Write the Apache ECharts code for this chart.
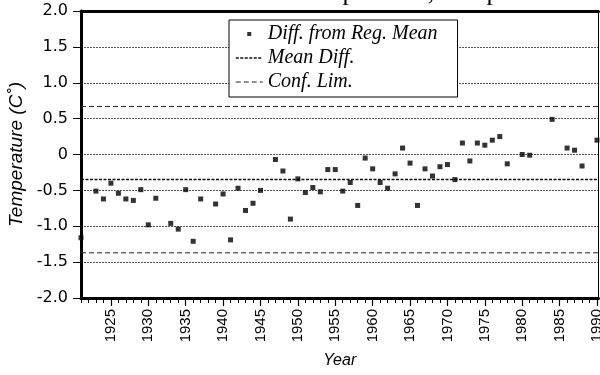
<!DOCTYPE html>
<html>
<head>
<meta charset="utf-8">
<script src="https://cdn.jsdelivr.net/npm/echarts@6/dist/echarts.min.js"></script>
<style>
  html, body { margin: 0; padding: 0; background: #fff; }
  #chart { width: 600px; height: 375px; }
</style>
</head>
<body>
<div id="chart"></div>
<script>
// years with a value
var years = [1921,1923,1924,1925,1926,1927,1928,1929,1930,1931,1933,1934,1935,1936,1937,1939,1940,1941,1942,1943,1944,1945,
  1947,1948,1949,1950,1951,1952,1953,1954,1955,1956,1957,1958,1959,1960,1961,1962,1963,1964,1965,1966,1967,1968,1969,
  1970,1971,1972,1973,1974,1975,1976,1977,1978,1980,1981,1984,1986,1987,1988,1990];
var diffs = [-1.16,-0.51,-0.62,-0.40,-0.54,-0.62,-0.64,-0.49,-0.98,-0.61,-0.96,-1.04,-0.49,-1.21,-0.62,-0.69,-0.55,-1.19,-0.47,-0.78,-0.68,-0.50,
  -0.07,-0.23,-0.90,-0.34,-0.53,-0.46,-0.52,-0.21,-0.21,-0.51,-0.39,-0.71,-0.05,-0.20,-0.39,-0.47,-0.27,0.09,-0.12,-0.71,-0.20,-0.30,-0.17,
  -0.14,-0.35,0.16,-0.09,0.16,0.13,0.20,0.25,-0.13,0.00,-0.01,0.49,0.09,0.06,-0.16,0.20];
var meanDiff = -0.35;
var confUpper = 0.67;
var confLower = -1.37;
var xMin = 1921, xMax = 1990.2;
var labelYears = [1925,1930,1935,1940,1945,1950,1955,1960,1965,1970,1975,1980,1985,1990];
var tickYears = [];
for (var y = 1921; y <= 1990; y++) tickYears.push(y);

var points = years.map(function (yr, i) { return [yr, diffs[i]]; });

var chart = echarts.init(document.getElementById('chart'));
chart.setOption({
  backgroundColor: '#fff',
  animation: false,
  textStyle: { fontFamily: 'Liberation Sans', color: '#000' },
  graphic: [{
    type: 'text', x: 231, y: 6, z: 0,
    style: { text: 'Mean Temperature, Temperature Difference', font: '26px "Liberation Serif"', fill: '#000', verticalAlign: 'bottom' }
  }],
  grid: { left: 81, right: 1.5, top: 11, bottom: 77, outerBoundsMode: 'none' },
  legend: {
    left: 229, top: 20, orient: 'vertical',
    backgroundColor: '#fff', borderColor: '#000', borderWidth: 1,
    padding: [4, 20, 5, 6], itemGap: 4, itemWidth: 27, itemHeight: 14,
    textStyle: { fontFamily: 'Liberation Serif', fontStyle: 'italic', fontSize: 20, color: '#000' },
    data: [
      { name: 'Diff. from Reg. Mean', icon: 'path://M0,0M27,14M11.5,5h4v4h-4z' },
      { name: 'Mean Diff.', itemStyle: { opacity: 0 }, lineStyle: { color: '#111', width: 1.5, type: [3, 1.5] } },
      { name: 'Conf. Lim.', itemStyle: { opacity: 0 }, lineStyle: { color: '#222', width: 1, type: [5, 3] } }
    ]
  },
  xAxis: [{
    type: 'value', min: xMin, max: xMax, position: 'bottom',
    name: 'Year', nameLocation: 'middle', nameGap: 55,
    nameTextStyle: { fontStyle: 'italic', fontSize: 16, color: '#000' },
    axisLine: { onZero: false, lineStyle: { color: '#000', width: 3 } },
    axisTick: { show: true, customValues: tickYears, length: 5, lineStyle: { color: '#000', width: 1 } },
    axisLabel: { customValues: labelYears, rotate: 90, margin: 11, fontSize: 15, color: '#000',
      formatter: function (v) { return String(v); } },
    splitLine: { show: false }
  }, {
    type: 'value', min: xMin, max: xMax, position: 'bottom',
    axisLine: { show: false, onZero: false },
    axisTick: { show: true, customValues: labelYears, length: 8, lineStyle: { color: '#000', width: 1.2 } },
    axisLabel: { show: false },
    splitLine: { show: false }
  }, {
    type: 'value', min: xMin, max: xMax, position: 'top',
    axisLine: { onZero: false, lineStyle: { color: '#000', width: 3 } },
    axisTick: { show: false }, axisLabel: { show: false }, splitLine: { show: false }
  }],
  yAxis: [{
    type: 'value', min: -2, max: 2, interval: 0.5, position: 'left',
    name: 'Temperature (C˚)', nameLocation: 'middle', nameGap: 53,
    nameTextStyle: { fontStyle: 'italic', fontSize: 19, color: '#000' },
    axisLine: { show: true, onZero: false, lineStyle: { color: '#000', width: 3 } },
    axisTick: { show: true, length: 8, lineStyle: { color: '#000', width: 1 } },
    axisLabel: {
      margin: 13, fontFamily: 'DejaVu Sans', fontSize: 16, color: '#000',
      formatter: function (v) { return v === 0 ? '0' : v.toFixed(1); }
    },
    splitLine: { show: true, lineStyle: { color: '#555', width: 1, type: [2, 1] } }
  }, {
    type: 'value', min: -2, max: 2, position: 'right',
    axisLine: { show: true, onZero: false, lineStyle: { color: '#000', width: 1 } },
    axisTick: { show: false }, axisLabel: { show: false }, splitLine: { show: false }
  }],
  series: [{
    name: 'Mean Diff.', type: 'line', symbol: 'none', z: 2,
    itemStyle: { color: '#111' },
    data: [[xMin, meanDiff], [xMax, meanDiff]],
    lineStyle: { color: '#111', width: 1.5, type: [3, 1.5] }
  }, {
    name: 'Conf. Lim.', type: 'line', symbol: 'none', z: 2,
    itemStyle: { color: '#222' },
    data: [[xMin, confUpper], [xMax, confUpper]],
    lineStyle: { color: '#222', width: 1, type: [5, 3] }
  }, {
    name: 'Conf. Lim.', type: 'line', symbol: 'none', z: 2,
    itemStyle: { color: '#222' },
    data: [[xMin, confLower], [xMax, confLower]],
    lineStyle: { color: '#222', width: 1, type: [5, 3] }
  }, {
    name: 'Diff. from Reg. Mean', type: 'scatter', symbol: 'rect', symbolSize: 5, z: 3,
    itemStyle: { color: '#000' },
    data: points
  }]
});
</script>
</body>
</html>
